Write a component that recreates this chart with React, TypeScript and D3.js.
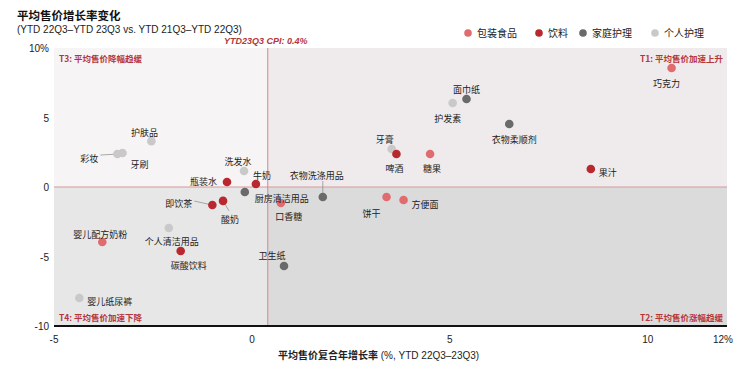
import React from "react";
import * as d3 from "d3";

const categories = ["包装食品", "饮料", "家庭护理", "个人护理"];
const categoryColors = ["#e06c70", "#b8282e", "#6a6a6a", "#c9c9c9"];

const names = [
  "巧克力", "果汁", "面巾纸", "护发素", "衣物柔顺剂", "牙膏", "啤酒", "糖果",
  "饼干", "方便面", "衣物洗涤用品", "口香糖", "卫生纸", "牛奶", "洗发水", "瓶装水",
  "厨房清洁用品", "酸奶", "即饮茶", "护肤品", "彩妆", "牙刷", "个人清洁用品",
  "婴儿配方奶粉", "碳酸饮料", "婴儿纸尿裤",
];
const groups = [
  0, 1, 2, 3, 2, 3, 1, 0,
  0, 0, 2, 0, 2, 1, 3, 1,
  2, 1, 1, 3, 3, 3, 3,
  0, 1, 3,
];
const xValues = [
  10.6, 8.56, 5.42, 5.07, 6.5, 3.53, 3.65, 4.5,
  3.4, 3.83, 1.79, 0.73, 0.81, 0.1, -0.2, -0.63,
  -0.18, -0.73, -1.0, -2.54, -3.4, -3.27, -2.1,
  -3.78, -1.8, -4.36,
];
const yValues = [
  8.56, 1.3, 6.33, 6.04, 4.53, 2.73, 2.37, 2.37,
  -0.72, -0.94, -0.72, -1.15, -5.68, 0.22, 1.15, 0.36,
  -0.36, -1.0, -1.3, 3.3, 2.37, 2.45, -2.95,
  -3.96, -4.6, -7.99,
];
// label placement: dx, dy (px), anchor
const labelPos: [number, number, string][] = [
  [-5, 15, "middle"], [8, 4, "start"], [0, -10, "middle"], [-5, 15, "middle"],
  [5, 15, "middle"], [-7, -10, "middle"], [-2, 14, "middle"], [2, 14, "middle"],
  [-15, 16, "middle"], [8, 4, "start"], [-6, -22, "middle"], [8, 14, "middle"],
  [-12, -10, "middle"], [6, -8, "middle"], [-6, -10, "middle"], [-10, 0, "end"],
  [10, 6, "start"], [7, 19, "middle"], [-20, -2, "end"], [-7, -9, "middle"],
  [-19, 4, "end"], [17, 12, "middle"], [3, 13, "middle"],
  [-2, -8, "middle"], [8, 15, "middle"], [8, 3, "start"],
];
const leaders = [10, 17, 18, 20];

const xTicks = [-5, 0, 5, 10, 12];
const yTicks = [-10, -5, 0, 5, 10];
const cpi = 0.4;

const quadrantLabels = [
  "T3: 平均售价降幅趋缓",
  "T1: 平均售价加速上升",
  "T4: 平均售价加速下降",
  "T2: 平均售价涨幅趋缓",
];

export default function App() {
  const W = 750, H = 370;
  const x = d3.scaleLinear().domain([-5, 12]).range([54, 727]);
  const y = d3.scaleLinear().domain([-10, 10]).range([326, 48]);
  const font = "'Noto Sans CJK SC', 'Liberation Sans', Arial, sans-serif";
  const x0 = x(-5), x1 = x(12), xc = x(cpi), y0 = y(0), yt = y(10), yb = y(-10);
  const red = "#b5363a";
  const legendX = [468, 539, 583, 655];

  return (
    <svg width={W} height={H} style={{ position: "absolute", left: 0, top: 0, fontFamily: font }}>
      <rect x={0} y={0} width={W} height={H} fill="#fff" />
      <text x={17} y={20} fontSize={11.5} fontWeight="bold" fill="#111">平均售价增长率变化</text>
      <text x={17} y={33} fontSize={10} fill="#222" fontFamily="'Liberation Sans', Arial, sans-serif">(YTD 22Q3–YTD 23Q3 vs. YTD 21Q3–YTD 22Q3)</text>

      {categories.map((c, i) => (
        <g key={c}>
          <circle cx={legendX[i]} cy={33} r={3.8} fill={categoryColors[i]} />
          <text x={legendX[i] + 9} y={37} fontSize={10} fill="#222">{c}</text>
        </g>
      ))}

      <rect x={x0} y={yt} width={xc - x0} height={y0 - yt} fill="#f6f4f4" />
      <rect x={xc} y={yt} width={x1 - xc} height={y0 - yt} fill="#efebec" />
      <rect x={x0} y={y0} width={xc - x0} height={yb - y0} fill="#e7e7e7" />
      <rect x={xc} y={y0} width={x1 - xc} height={yb - y0} fill="#dbdbdb" />
      <line x1={x0} x2={x1} y1={y0} y2={y0} stroke="#d59aa0" strokeWidth={1} />
      <line x1={xc} x2={xc} y1={yt} y2={yb} stroke="#d0868e" strokeWidth={1} />
      <line x1={x0} x2={x1} y1={yb} y2={yb} stroke="#111" strokeWidth={2} />

      <text x={xc - 2} y={44} textAnchor="middle" fontSize={9} fontWeight="bold" fontStyle="italic" fill={red} fontFamily="'Liberation Sans', Arial, sans-serif">YTD23Q3 CPI:  0.4%</text>

      <text x={x0 + 5} y={yt + 14} fontSize={8.5} fontWeight="bold" fill={red}>{quadrantLabels[0]}</text>
      <text x={x1 - 4} y={yt + 14} textAnchor="end" fontSize={8.5} fontWeight="bold" fill={red}>{quadrantLabels[1]}</text>
      <text x={x0 + 5} y={yb - 5} fontSize={8.5} fontWeight="bold" fill={red}>{quadrantLabels[2]}</text>
      <text x={x1 - 4} y={yb - 5} textAnchor="end" fontSize={8.5} fontWeight="bold" fill={red}>{quadrantLabels[3]}</text>

      {yTicks.map((t) => (
        <text key={t} x={49} y={y(t) + 4} textAnchor="end" fontSize={10} fill="#222" fontFamily="'Liberation Sans', Arial, sans-serif">
          {t === 10 ? "10%" : t}
        </text>
      ))}
      {xTicks.map((t) => (
        <text key={t} x={t === 12 ? x(t) - 4 : x(t)} y={343} textAnchor="middle" fontSize={10} fill="#222" fontFamily="'Liberation Sans', Arial, sans-serif">
          {t === 12 ? "12%" : t}
        </text>
      ))}
      <text x={278} y={359} fontSize={10} fill="#222">
        <tspan fontWeight="bold">平均售价复合年增长率</tspan>
        <tspan fontFamily="'Liberation Sans', Arial, sans-serif"> (%, YTD 22Q3–23Q3)</tspan>
      </text>

      {names.map((n, i) => {
        const px = x(xValues[i]), py = y(yValues[i]);
        const [dx, dy, anchor] = labelPos[i];
        if (!leaders.includes(i)) return null;
        let lx2 = px + dx, ly2 = py + dy;
        if (i === 10) { lx2 = px; ly2 = py - 16; }
        if (i === 17) { lx2 = px + 6; ly2 = py + 10; }
        if (i === 18) { lx2 = px - 18; ly2 = py - 4; }
        if (i === 20) { lx2 = px - 17; ly2 = py + 1; }
        return <line key={"l" + i} x1={px} y1={py} x2={lx2} y2={ly2} stroke="#888" strokeWidth={0.7} />;
      })}

      {names.map((n, i) => (
        <circle key={"c" + i} cx={x(xValues[i])} cy={y(yValues[i])} r={4.3} fill={categoryColors[groups[i]]} />
      ))}
      {names.map((n, i) => {
        const [dx, dy, anchor] = labelPos[i];
        return (
          <text key={"t" + i} x={x(xValues[i]) + dx} y={y(yValues[i]) + dy + 3.5} textAnchor={anchor} fontSize={9} fill="#222">
            {n}
          </text>
        );
      })}
    </svg>
  );
}
